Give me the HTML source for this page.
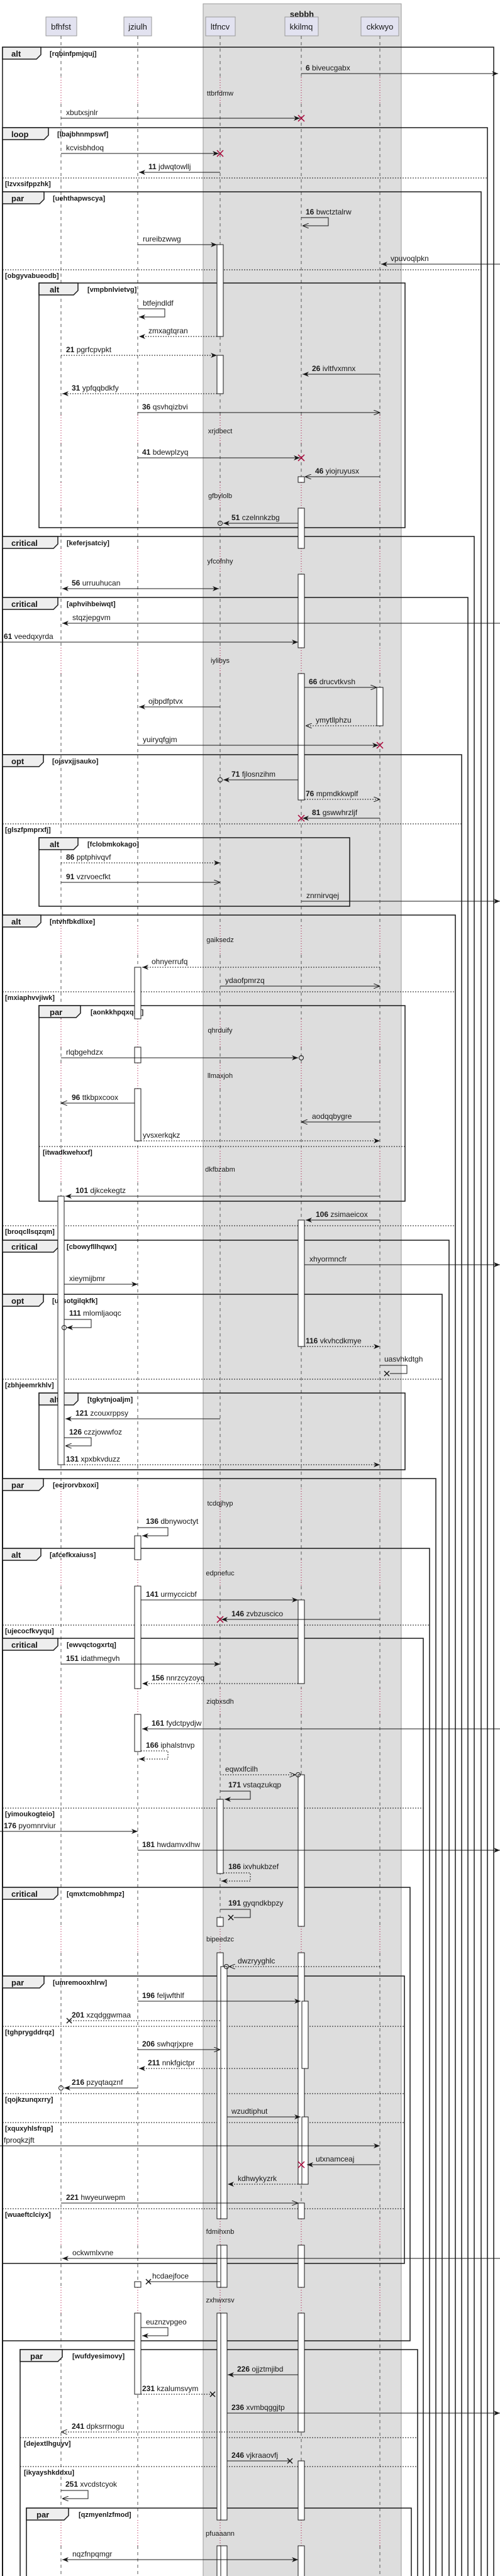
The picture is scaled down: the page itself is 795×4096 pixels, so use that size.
<!DOCTYPE html>
<html><head><meta charset="utf-8"><style>
html,body{margin:0;padding:0;background:#fff}
svg{display:block}
text{font-family:"Liberation Sans",sans-serif;fill:#181818}
.l{font-size:12px}
.g{font-size:11px;font-weight:bold}
.k{font-size:13px;font-weight:bold}
.dl{font-size:11px;text-anchor:middle}
.p{font-size:13px;text-anchor:middle}
.m{stroke:#181818;fill:none;stroke-width:1}
.d{stroke-dasharray:2 2}
.fr{fill:none;stroke:#181818;stroke-width:1.5}
.tab{fill:#eee;stroke:#181818;stroke-width:1.5}
.sep{stroke:#181818;stroke-dasharray:2 2;stroke-width:1}
.act{fill:#fff;stroke:#181818;stroke-width:1}
.rx{stroke:#A80036;stroke-width:1.5}
.bx{stroke:#181818;stroke-width:1.5}
.ci{fill:none;stroke:#181818;stroke-width:1}
</style></head><body>
<svg width="795" height="4096" viewBox="0 0 795 4096" xmlns="http://www.w3.org/2000/svg">
<defs>
<marker id="f" viewBox="0 0 10 8" refX="10" refY="4" markerWidth="10" markerHeight="8" markerUnits="userSpaceOnUse" orient="auto-start-reverse"><path d="M0,0L10,4L0,8L3,4z" fill="#181818"/></marker>
<marker id="o" viewBox="0 0 10 8" refX="10" refY="4" markerWidth="10" markerHeight="8" markerUnits="userSpaceOnUse" orient="auto"><path d="M0,0L10,4L0,8" fill="none" stroke="#181818"/></marker>
<path id="ll" d="M0 57V123M0 165V660M0 705V767M0 808V872M0 912V1030M0 1071V1472M0 1518V1620M0 1665V1690M0 1731V1830M0 1880V2367M0 2417V2480M0 2522V2685M0 2726V3063M0 3105V3528M0 3570V3637M0 3678V4007M0 4048V4096" stroke="#555" stroke-dasharray="5 5" fill="none"/>
<path id="dd" d="M0 123V165M0 660V705M0 767V808M0 872V912M0 1030V1071M0 1472V1518M0 1620V1665M0 1690V1731M0 1830V1880M0 2367V2417M0 2480V2522M0 2685V2726M0 3063V3105M0 3528V3570M0 3637V3678M0 4007V4048" stroke="#A80036" stroke-dasharray="1 3" fill="none"/>
</defs>
<!-- group -->
<rect x="323" y="6" width="315" height="4095" fill="#ddd" stroke="#999"/>
<text x="480" y="27" class="k" text-anchor="middle">sebbh</text>
<!-- participants -->
<rect x="73" y="27" width="49" height="30" fill="#E2E2F0" stroke="#999"/><text x="97" y="47" class="p">bfhfst</text>
<rect x="197" y="27" width="44" height="30" fill="#E2E2F0" stroke="#999"/><text x="219" y="47" class="p">jziulh</text>
<rect x="327" y="27" width="47" height="30" fill="#E2E2F0" stroke="#999"/><text x="350" y="47" class="p">ltfncv</text>
<rect x="453" y="27" width="53" height="30" fill="#E2E2F0" stroke="#999"/><text x="479" y="47" class="p">kkilmq</text>
<rect x="574" y="27" width="60" height="30" fill="#E2E2F0" stroke="#999"/><text x="604" y="47" class="p">ckkwyo</text>
<!-- lifelines -->
<use href="#ll" x="97"/><use href="#ll" x="219"/><use href="#ll" x="350"/><use href="#ll" x="479"/><use href="#ll" x="604"/>
<use href="#dd" x="97"/><use href="#dd" x="219"/><use href="#dd" x="350"/><use href="#dd" x="479"/><use href="#dd" x="604"/>
<!-- delay texts -->
<text x="350" y="152" class="dl">ttbrfdmw</text>
<text x="350" y="689" class="dl">xrjdbect</text>
<text x="350" y="792" class="dl">gfbylolb</text>
<text x="350" y="896" class="dl">yfcofnhy</text>
<text x="350" y="1054" class="dl">iylibys</text>
<text x="350" y="1498" class="dl">gaiksedz</text>
<text x="350" y="1642" class="dl">qhrduify</text>
<text x="350" y="1714" class="dl">llmaxjoh</text>
<text x="350" y="1863" class="dl">dkfbzabm</text>
<text x="350" y="2394" class="dl">tcdqjhyp</text>
<text x="350" y="2505" class="dl">edpnefuc</text>
<text x="350" y="2709" class="dl">ziqbxsdh</text>
<text x="350" y="3087" class="dl">bipeedzc</text>
<text x="350" y="3552" class="dl">fdmihxnb</text>
<text x="350" y="3661" class="dl">zxhwxrsv</text>
<text x="350" y="4032" class="dl">pfuaaann</text>
<!-- frames -->
<g>
<rect class="fr" x="4" y="75" width="781" height="4030"/><path class="tab" d="M4 75H65V87L58 94H4Z"/><text x="18" y="90" class="k">alt</text><text x="79" y="89" class="g">[rqbinfpmjquj]</text>
<rect class="fr" x="4" y="203" width="771" height="3900"/><path class="tab" d="M4 203H77V215L70 222H4Z"/><text x="18" y="218" class="k">loop</text><text x="91" y="217" class="g">[lbajbhnmpswf]</text>
<rect class="fr" x="4" y="305" width="761" height="3800"/><path class="tab" d="M4 305H70V317L63 324H4Z"/><text x="18" y="320" class="k">par</text><text x="84" y="319" class="g">[uehthapwscya]</text>
<rect class="fr" x="62" y="450" width="582" height="389"/><path class="tab" d="M62 450H124V462L117 469H62Z"/><text x="79" y="465" class="k">alt</text><text x="139" y="464" class="g">[vmpbnlvietvg]</text>
<rect class="fr" x="4" y="853" width="750" height="3250"/><path class="tab" d="M4 853H92V865L85 872H4Z"/><text x="18" y="868" class="k">critical</text><text x="106" y="867" class="g">[keferjsatciy]</text>
<rect class="fr" x="4" y="950" width="740" height="3150"/><path class="tab" d="M4 950H92V962L85 969H4Z"/><text x="18" y="965" class="k">critical</text><text x="106" y="964" class="g">[aphvihbeiwqt]</text>
<rect class="fr" x="4" y="1200" width="730" height="2900"/><path class="tab" d="M4 1200H69V1212L62 1219H4Z"/><text x="18" y="1215" class="k">opt</text><text x="83" y="1214" class="g">[ojsvxjjsauko]</text>
<rect class="fr" x="62" y="1332" width="494" height="109"/><path class="tab" d="M62 1332H124V1344L117 1351H62Z"/><text x="79" y="1347" class="k">alt</text><text x="139" y="1346" class="g">[fclobmkokago]</text>
<rect class="fr" x="4" y="1455" width="720" height="2650"/><path class="tab" d="M4 1455H65V1467L58 1474H4Z"/><text x="18" y="1470" class="k">alt</text><text x="79" y="1469" class="g">[ntvhfbkdlixe]</text>
<rect class="fr" x="62" y="1599" width="582" height="311"/><path class="tab" d="M62 1599H128V1611L121 1618H62Z"/><text x="79" y="1614" class="k">par</text><text x="144" y="1613" class="g">[aonkkhpqxqsv]</text>
<rect class="fr" x="4" y="1972" width="710" height="2130"/><path class="tab" d="M4 1972H92V1984L85 1991H4Z"/><text x="18" y="1987" class="k">critical</text><text x="106" y="1986" class="g">[cbowyfllhqwx]</text>
<rect class="fr" x="4" y="2058" width="699" height="2050"/><path class="tab" d="M4 2058H69V2070L62 2077H4Z"/><text x="18" y="2073" class="k">opt</text><text x="83" y="2072" class="g">[uysotgilqkfk]</text>
<rect class="fr" x="62" y="2215" width="582" height="122"/><path class="tab" d="M62 2215H124V2227L117 2234H62Z"/><text x="79" y="2230" class="k">alt</text><text x="139" y="2229" class="g">[tgkytnjoaljm]</text>
<rect class="fr" x="4" y="2351" width="689" height="1750"/><path class="tab" d="M4 2351H69V2363L62 2370H4Z"/><text x="18" y="2366" class="k">par</text><text x="84" y="2365" class="g">[ecjrorvbxoxi]</text>
<rect class="fr" x="4" y="2462" width="679" height="1650"/><path class="tab" d="M4 2462H65V2474L58 2481H4Z"/><text x="18" y="2477" class="k">alt</text><text x="79" y="2476" class="g">[afcefkxaiuss]</text>
<rect class="fr" x="4" y="2605" width="669" height="1500"/><path class="tab" d="M4 2605H92V2617L85 2624H4Z"/><text x="18" y="2620" class="k">critical</text><text x="106" y="2619" class="g">[ewvqctogxrtq]</text>
<rect class="fr" x="4" y="3001" width="648" height="721"/><path class="tab" d="M4 3001H92V3013L85 3020H4Z"/><text x="18" y="3016" class="k">critical</text><text x="106" y="3015" class="g">[qmxtcmobhmpz]</text>
<rect class="fr" x="4" y="3142" width="639" height="457"/><path class="tab" d="M4 3142H70V3154L63 3161H4Z"/><text x="18" y="3157" class="k">par</text><text x="84" y="3156" class="g">[umremooxhlrw]</text>
<rect class="fr" x="32" y="3736" width="632" height="400"/><path class="tab" d="M32 3736H99V3748L92 3755H32Z"/><text x="48" y="3751" class="k">par</text><text x="115" y="3750" class="g">[wufdyesimovy]</text>
<rect class="fr" x="42" y="3988" width="612" height="200"/><path class="tab" d="M42 3988H109V4000L102 4007H42Z"/><text x="58" y="4003" class="k">par</text><text x="125" y="4002" class="g">[qzmyenlzfmod]</text>
</g>
<!-- separators -->
<line class="sep" x1="4" x2="775" y1="283" y2="283"/><text x="8" y="296" class="g">[lzvxsifppzhk]</text>
<line class="sep" x1="4" x2="765" y1="429" y2="429"/><text x="8" y="442" class="g">[obgyvabueodb]</text>
<line class="sep" x1="4" x2="734" y1="1310" y2="1310"/><text x="8" y="1323" class="g">[glszfpmprxfj]</text>
<line class="sep" x1="4" x2="724" y1="1577" y2="1577"/><text x="8" y="1590" class="g">[mxiaphvvjiwk]</text>
<line class="sep" x1="62" x2="644" y1="1823" y2="1823"/><text x="68" y="1836" class="g">[itwadkwehxxf]</text>
<line class="sep" x1="4" x2="724" y1="1949" y2="1949"/><text x="8" y="1962" class="g">[broqcllsqzqm]</text>
<line class="sep" x1="4" x2="703" y1="2193" y2="2193"/><text x="8" y="2206" class="g">[zbhjeemrkhlv]</text>
<line class="sep" x1="4" x2="683" y1="2584" y2="2584"/><text x="8" y="2597" class="g">[ujecocfkvyqu]</text>
<line class="sep" x1="4" x2="673" y1="2875" y2="2875"/><text x="8" y="2888" class="g">[yimoukogteio]</text>
<line class="sep" x1="4" x2="643" y1="3222" y2="3222"/><text x="8" y="3235" class="g">[tghprygddrqz]</text>
<line class="sep" x1="4" x2="643" y1="3329" y2="3329"/><text x="8" y="3342" class="g">[qojkzunqxrry]</text>
<line class="sep" x1="4" x2="643" y1="3375" y2="3375"/><text x="8" y="3388" class="g">[xquxyhlsfrqp]</text>
<line class="sep" x1="4" x2="643" y1="3512" y2="3512"/><text x="8" y="3525" class="g">[wuaeftclciyx]</text>
<line class="sep" x1="32" x2="664" y1="3876" y2="3876"/><text x="38" y="3889" class="g">[dejextlhguyv]</text>
<line class="sep" x1="32" x2="664" y1="3922" y2="3922"/><text x="38" y="3935" class="g">[ikyayshkddxu]</text>
<!-- activations -->
<g class="act">
<rect x="345" y="389" width="10" height="146"/>
<rect x="345" y="565" width="10" height="61"/>
<rect x="474" y="758" width="10" height="9"/>
<rect x="474" y="808" width="10" height="64"/>
<rect x="474" y="913" width="10" height="117"/>
<rect x="474" y="1071" width="10" height="201"/>
<rect x="599" y="1093" width="10" height="61"/>
<rect x="214" y="1538" width="10" height="82"/>
<rect x="214" y="1665" width="10" height="25"/>
<rect x="214" y="1731" width="10" height="83"/>
<rect x="92" y="1902" width="10" height="427"/>
<rect x="474" y="1940" width="10" height="201"/>
<rect x="214" y="2442" width="10" height="38"/>
<rect x="214" y="2522" width="10" height="163"/>
<rect x="474" y="2544" width="10" height="133"/>
<rect x="214" y="2726" width="10" height="59"/>
<rect x="474" y="2822" width="10" height="241"/>
<rect x="474" y="3105" width="10" height="368"/>
<rect x="474" y="3503" width="10" height="25"/>
<rect x="474" y="3570" width="10" height="67"/>
<rect x="474" y="3678" width="10" height="189"/>
<rect x="474" y="3913" width="10" height="94"/>
<rect x="474" y="4048" width="10" height="50"/>
<rect x="480" y="3182" width="10" height="107"/>
<rect x="480" y="3366" width="10" height="107"/>
<rect x="345" y="2861" width="10" height="118"/>
<rect x="345" y="3049" width="10" height="14"/>
<rect x="345" y="3105" width="10" height="423"/>
<rect x="345" y="3570" width="10" height="67"/>
<rect x="345" y="3678" width="10" height="329"/>
<rect x="345" y="4048" width="10" height="50"/>
<rect x="351" y="3127" width="10" height="401"/>
<rect x="351" y="3570" width="10" height="67"/>
<rect x="351" y="3678" width="10" height="329"/>
<rect x="351" y="4048" width="10" height="50"/>
<rect x="214" y="3628" width="10" height="9"/>
<rect x="214" y="3678" width="10" height="129"/>
</g>
<!-- messages -->
<g class="m">
<line x1="479" y1="117" x2="792" y2="117" marker-end="url(#f)"/>
<line x1="97" y1="188" x2="477" y2="188" marker-end="url(#f)"/>
<line x1="97" y1="244" x2="348" y2="244" marker-end="url(#f)"/>
<line x1="350" y1="274" x2="221" y2="274" marker-end="url(#f)"/>
<path d="M479 346H522V359H481" marker-end="url(#o)"/>
<line x1="219" y1="389" x2="345" y2="389" marker-end="url(#f)"/>
<line x1="795" y1="420" x2="606" y2="420" marker-end="url(#f)"/>
<path d="M219 491H262V504H221" marker-end="url(#f)"/>
<line class="d" x1="345" y1="535" x2="221" y2="535" marker-end="url(#f)"/>
<line class="d" x1="97" y1="565" x2="345" y2="565" marker-end="url(#f)"/>
<line x1="604" y1="595" x2="481" y2="595" marker-end="url(#f)"/>
<line class="d" x1="345" y1="626" x2="99" y2="626" marker-end="url(#f)"/>
<line x1="219" y1="656" x2="604" y2="656" marker-end="url(#o)"/>
<line x1="219" y1="728" x2="477" y2="728" marker-end="url(#f)"/>
<line x1="604" y1="758" x2="485" y2="758" marker-end="url(#o)"/>
<line x1="474" y1="832" x2="355" y2="832" marker-end="url(#f)"/>
<line x1="99" y1="936" x2="348" y2="936" marker-start="url(#f)" marker-end="url(#f)"/>
<line x1="795" y1="991" x2="99" y2="991" marker-end="url(#f)"/>
<line x1="0" y1="1021" x2="474" y2="1021" marker-end="url(#f)"/>
<line x1="484" y1="1093" x2="599" y2="1093" marker-end="url(#o)"/>
<line x1="350" y1="1124" x2="221" y2="1124" marker-end="url(#f)"/>
<line class="d" x1="599" y1="1154" x2="486" y2="1154" marker-end="url(#o)"/>
<line x1="219" y1="1185" x2="602" y2="1185" marker-end="url(#f)"/>
<line x1="474" y1="1240" x2="355" y2="1240" marker-end="url(#f)"/>
<line class="d" x1="484" y1="1271" x2="604" y2="1271" marker-end="url(#o)"/>
<line x1="604" y1="1301" x2="481" y2="1301" marker-end="url(#f)"/>
<line class="d" x1="97" y1="1372" x2="350" y2="1372" marker-end="url(#f)"/>
<line x1="97" y1="1403" x2="350" y2="1403" marker-end="url(#o)"/>
<line x1="479" y1="1433" x2="795" y2="1433" marker-end="url(#f)"/>
<line class="d" x1="604" y1="1538" x2="226" y2="1538" marker-end="url(#f)"/>
<line x1="350" y1="1568" x2="604" y2="1568" marker-end="url(#o)"/>
<line x1="97" y1="1682" x2="474" y2="1682" marker-end="url(#f)"/>
<line x1="214" y1="1754" x2="97" y2="1754" marker-end="url(#o)"/>
<line x1="604" y1="1784" x2="479" y2="1784" marker-end="url(#o)"/>
<line class="d" x1="224" y1="1814" x2="604" y2="1814" marker-end="url(#f)"/>
<line x1="604" y1="1902" x2="104" y2="1902" marker-end="url(#f)"/>
<line x1="604" y1="1940" x2="486" y2="1940" marker-end="url(#f)"/>
<line x1="484" y1="2011" x2="795" y2="2011" marker-end="url(#f)"/>
<line x1="102" y1="2042" x2="219" y2="2042" marker-end="url(#f)"/>
<path d="M102 2098H145V2111H106" marker-end="url(#f)"/>
<line class="d" x1="484" y1="2141" x2="604" y2="2141" marker-end="url(#f)"/>
<path d="M604 2171H647V2184H620"/>
<line x1="350" y1="2256" x2="104" y2="2256" marker-end="url(#f)"/>
<path d="M102 2286H145V2299H104" marker-end="url(#o)"/>
<line class="d" x1="102" y1="2329" x2="604" y2="2329" marker-end="url(#f)"/>
<path d="M219 2429H267V2442H226" marker-end="url(#f)"/>
<line x1="224" y1="2544" x2="474" y2="2544" marker-end="url(#f)"/>
<line x1="604" y1="2575" x2="352" y2="2575" marker-end="url(#f)"/>
<line x1="97" y1="2646" x2="350" y2="2646" marker-end="url(#f)"/>
<line class="d" x1="474" y1="2677" x2="226" y2="2677" marker-end="url(#f)"/>
<line x1="795" y1="2749" x2="226" y2="2749" marker-end="url(#f)"/>
<path class="d" d="M224 2784H267V2797H221" marker-end="url(#f)"/>
<line class="d" x1="350" y1="2822" x2="470" y2="2822" marker-end="url(#o)"/>
<path d="M350 2848H398V2861H357" marker-end="url(#f)"/>
<line x1="0" y1="2912" x2="219" y2="2912" marker-end="url(#f)"/>
<line x1="219" y1="2942" x2="795" y2="2942" marker-end="url(#f)"/>
<path class="d" d="M355 2978H398V2991H352" marker-end="url(#f)"/>
<path d="M350 3036H398V3049H372"/>
<line class="d" x1="604" y1="3127" x2="364" y2="3127" marker-end="url(#o)"/>
<line x1="219" y1="3182" x2="478" y2="3182" marker-end="url(#f)"/>
<line class="d" x1="350" y1="3213" x2="112" y2="3213"/>
<line x1="219" y1="3259" x2="350" y2="3259" marker-end="url(#o)"/>
<line class="d" x1="474" y1="3289" x2="221" y2="3289" marker-end="url(#f)"/>
<line x1="219" y1="3320" x2="102" y2="3320" marker-end="url(#f)"/>
<line x1="361" y1="3366" x2="478" y2="3366" marker-end="url(#f)"/>
<line x1="0" y1="3412" x2="604" y2="3412" marker-end="url(#f)"/>
<line x1="604" y1="3442" x2="488" y2="3442" marker-end="url(#f)"/>
<line class="d" x1="474" y1="3473" x2="362" y2="3473" marker-end="url(#f)"/>
<line x1="97" y1="3503" x2="474" y2="3503" marker-end="url(#o)"/>
<line x1="795" y1="3591" x2="99" y2="3591" marker-end="url(#f)"/>
<line x1="350" y1="3628" x2="236" y2="3628"/>
<path d="M224 3701H267V3714H226" marker-end="url(#f)"/>
<line x1="474" y1="3776" x2="362" y2="3776" marker-end="url(#f)"/>
<line class="d" x1="224" y1="3807" x2="338" y2="3807"/>
<line x1="361" y1="3837" x2="795" y2="3837" marker-end="url(#f)"/>
<line class="d" x1="474" y1="3867" x2="97" y2="3867" marker-end="url(#o)"/>
<line x1="361" y1="3913" x2="461" y2="3913"/>
<path d="M97 3960H140V3973H99" marker-end="url(#o)"/>
<line x1="99" y1="4070" x2="474" y2="4070" marker-start="url(#f)" marker-end="url(#f)"/>
</g>
<!-- circles -->
<g class="ci">
<circle cx="350" cy="832" r="3.5"/>
<circle cx="350" cy="1240" r="3.5"/>
<circle cx="479" cy="1682" r="3.5"/>
<circle cx="102" cy="2111" r="3.5"/>
<circle cx="474" cy="2822" r="3.5"/>
<circle cx="360" cy="3127" r="3.5"/>
<circle cx="97" cy="3320" r="3.5"/>
</g>
<!-- red X -->
<g class="rx">
<path d="M474 183L484 193M484 183L474 193"/>
<path d="M345 239L355 249M355 239L345 249"/>
<path d="M474 723L484 733M484 723L474 733"/>
<path d="M599 1180L609 1190M609 1180L599 1190"/>
<path d="M474 1296L484 1306M484 1296L474 1306"/>
<path d="M345 2570L355 2580M355 2570L345 2580"/>
<path d="M474 3437L484 3447M484 3437L474 3447"/>
</g>
<!-- black X -->
<g class="bx">
<path d="M611 2180L619 2188M619 2180L611 2188"/>
<path d="M363 3045L371 3053M371 3045L363 3053"/>
<path d="M106 3209L114 3217M114 3209L106 3217"/>
<path d="M232 3624L240 3632M240 3624L232 3632"/>
<path d="M334 3803L342 3811M342 3803L334 3811"/>
<path d="M457 3909L465 3917M465 3909L457 3917"/>
</g>
<!-- labels -->
<g class="l">
<text x="486" y="112"><tspan font-weight="bold">6</tspan> biveucgabx</text>
<text x="105" y="183">xbutxsjnlr</text>
<text x="105" y="239">kcvisbhdoq</text>
<text x="236" y="269"><tspan font-weight="bold">11</tspan> jdwqtowllj</text>
<text x="486" y="341"><tspan font-weight="bold">16</tspan> bwctztalrw</text>
<text x="227" y="384">rureibzwwg</text>
<text x="621" y="415">vpuvoqlpkn</text>
<text x="227" y="486">btfejndldf</text>
<text x="236" y="530">zmxagtqran</text>
<text x="105" y="560"><tspan font-weight="bold">21</tspan> pgrfcpvpkt</text>
<text x="496" y="590"><tspan font-weight="bold">26</tspan> ivltfvxmnx</text>
<text x="114" y="621"><tspan font-weight="bold">31</tspan> ypfqqbdkfy</text>
<text x="226" y="651"><tspan font-weight="bold">36</tspan> qsvhqizbvi</text>
<text x="226" y="723"><tspan font-weight="bold">41</tspan> bdewplzyq</text>
<text x="501" y="753"><tspan font-weight="bold">46</tspan> yiojruyusx</text>
<text x="368" y="827"><tspan font-weight="bold">51</tspan> czelnnkzbg</text>
<text x="114" y="931"><tspan font-weight="bold">56</tspan> urruuhucan</text>
<text x="115" y="986">stqzjepgvm</text>
<text x="6" y="1016"><tspan font-weight="bold">61</tspan> veedqxyrda</text>
<text x="491" y="1088"><tspan font-weight="bold">66</tspan> drucvtkvsh</text>
<text x="236" y="1119">ojbpdfptvx</text>
<text x="502" y="1149">ymytllphzu</text>
<text x="227" y="1180">yuiryqfgjm</text>
<text x="368" y="1235"><tspan font-weight="bold">71</tspan> fjlosnzihm</text>
<text x="486" y="1266"><tspan font-weight="bold">76</tspan> mpmdkkwplf</text>
<text x="496" y="1296"><tspan font-weight="bold">81</tspan> gswwhrzljf</text>
<text x="105" y="1367"><tspan font-weight="bold">86</tspan> pptphivqvf</text>
<text x="105" y="1398"><tspan font-weight="bold">91</tspan> vzrvoecfkt</text>
<text x="487" y="1428">znrnirvqej</text>
<text x="241" y="1533">ohnyerrufq</text>
<text x="358" y="1563">ydaofpmrzq</text>
<text x="105" y="1677">rlqbgehdzx</text>
<text x="114" y="1749"><tspan font-weight="bold">96</tspan> ttkbpxcoox</text>
<text x="496" y="1779">aodqqbygre</text>
<text x="227" y="1809">yvsxerkqkz</text>
<text x="120" y="1897"><tspan font-weight="bold">101</tspan> djkcekegtz</text>
<text x="502" y="1935"><tspan font-weight="bold">106</tspan> zsimaeicox</text>
<text x="492" y="2006">xhyormncfr</text>
<text x="110" y="2037">xieymijbmr</text>
<text x="110" y="2092"><tspan font-weight="bold">111</tspan> mlomljaoqc</text>
<text x="486" y="2136"><tspan font-weight="bold">116</tspan> vkvhcdkmye</text>
<text x="611" y="2165">uasvhkdtgh</text>
<text x="120" y="2251"><tspan font-weight="bold">121</tspan> zcouxrppsy</text>
<text x="110" y="2281"><tspan font-weight="bold">126</tspan> czzjowwfoz</text>
<text x="105" y="2324"><tspan font-weight="bold">131</tspan> xpxbkvduzz</text>
<text x="232" y="2423"><tspan font-weight="bold">136</tspan> dbnywoctyt</text>
<text x="232" y="2539"><tspan font-weight="bold">141</tspan> urmyccicbf</text>
<text x="368" y="2570"><tspan font-weight="bold">146</tspan> zvbzuscico</text>
<text x="105" y="2641"><tspan font-weight="bold">151</tspan> idathmegvh</text>
<text x="241" y="2672"><tspan font-weight="bold">156</tspan> nnrzcyzoyq</text>
<text x="241" y="2744"><tspan font-weight="bold">161</tspan> fydctpydjw</text>
<text x="232" y="2779"><tspan font-weight="bold">166</tspan> iphalstnvp</text>
<text x="358" y="2817">eqwxlfcilh</text>
<text x="363" y="2842"><tspan font-weight="bold">171</tspan> vstaqzukqp</text>
<text x="6" y="2907"><tspan font-weight="bold">176</tspan> pyomnrviur</text>
<text x="226" y="2937"><tspan font-weight="bold">181</tspan> hwdamvxlhw</text>
<text x="363" y="2972"><tspan font-weight="bold">186</tspan> ixvhukbzef</text>
<text x="363" y="3030"><tspan font-weight="bold">191</tspan> gyqndkbpzy</text>
<text x="378" y="3122">dwzryyghlc</text>
<text x="226" y="3177"><tspan font-weight="bold">196</tspan> feljwfthlf</text>
<text x="114" y="3208"><tspan font-weight="bold">201</tspan> xzqdggwmaa</text>
<text x="226" y="3254"><tspan font-weight="bold">206</tspan> swhqrjxpre</text>
<text x="235" y="3284"><tspan font-weight="bold">211</tspan> nnkfgictpr</text>
<text x="114" y="3315"><tspan font-weight="bold">216</tspan> pzyqtaqznf</text>
<text x="368" y="3361">wzudtiphut</text>
<text x="6" y="3407">fproqkzjft</text>
<text x="502" y="3437">utxnamceaj</text>
<text x="378" y="3468">kdhwykyzrk</text>
<text x="105" y="3498"><tspan font-weight="bold">221</tspan> hwyeurwepm</text>
<text x="115" y="3586">ockwmlxvne</text>
<text x="242" y="3623">hcdaejfoce</text>
<text x="232" y="3696">euznzvpgeo</text>
<text x="377" y="3771"><tspan font-weight="bold">226</tspan> ojjztmjibd</text>
<text x="226" y="3802"><tspan font-weight="bold">231</tspan> kzalumsvym</text>
<text x="368" y="3832"><tspan font-weight="bold">236</tspan> xvmbqggjtp</text>
<text x="114" y="3862"><tspan font-weight="bold">241</tspan> dpksrrnogu</text>
<text x="368" y="3908"><tspan font-weight="bold">246</tspan> vjkraaovfj</text>
<text x="104" y="3954"><tspan font-weight="bold">251</tspan> xvcdstcyok</text>
<text x="115" y="4065">nqzfnpqmgr</text>
</g>
</svg>
</body></html>
